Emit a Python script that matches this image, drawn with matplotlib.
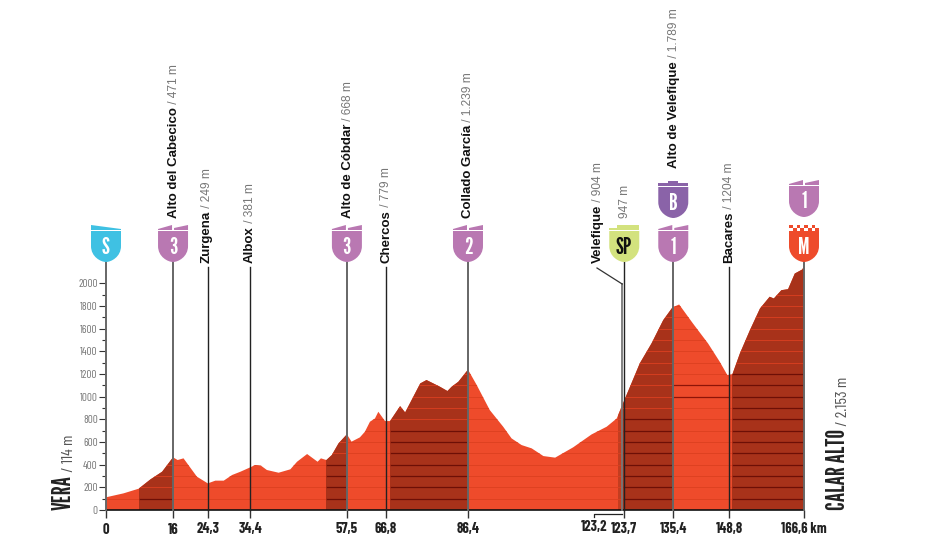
import numpy as np
import matplotlib
matplotlib.use('Agg')
import matplotlib.pyplot as plt
from matplotlib.patches import PathPatch, Polygon
from matplotlib.path import Path
from matplotlib.transforms import Affine2D

WIDTH, HEIGHT = 932, 553

# profile
km = [0, 4.2, 7.8, 10.6, 13.4, 16, 17.1, 18.5, 21.7, 24.3, 26.1, 28.1, 30.1, 32.1, 34.4, 35.6, 37, 38.4,
      41.2, 44, 45.6, 48, 50.5, 51.3, 52.6, 53.9, 55.5, 57.5, 58.6, 60.6, 61.8, 63, 64.2, 65, 66.6, 67.8,
      70.2, 71.4, 75, 76.5, 79.7, 81.5, 82.5, 84.1, 86.4, 88.5, 91.6, 94.8, 96.8, 99.2, 101.6, 104.4,
      107.2, 111.5, 115.9, 119.5, 121.9, 123.4, 125.4, 127.4, 130.2, 133, 135.2, 136.8, 140.1, 143.7,
      146.5, 148.3, 149.5, 151.3, 153.7, 156.1, 158.4, 159.4, 161.2, 162.8, 164.4, 166.2, 166.6]
elev = [112, 147, 188, 270, 338, 465, 441, 456, 294, 235, 259, 259, 309, 338, 376, 397, 391, 353,
        329, 359, 426, 494, 426, 456, 441, 485, 588, 668, 603, 641, 691, 779, 808, 867, 785, 785,
        917, 861, 1117, 1147, 1088, 1050, 1088, 1132, 1239, 1102, 882, 735, 632, 573, 544, 476,
        462, 553, 667, 735, 808, 941, 1117, 1294, 1470, 1676, 1788, 1814, 1646, 1470,
        1308, 1191, 1197, 1382, 1588, 1779, 1882, 1867, 1940, 1949, 2087, 2123, 2153]

# steep stretches: start km, end km, highest ruled line
dark_start = [7.8, 52.6, 67.8, 123.4, 149.5]
dark_end = [16, 57.5, 86.4, 135.4, 166.6]
dark_top = [100, 400, 700, 800, 1200]

x_ticks = [0, 16, 24.3, 34.4, 57.5, 66.8, 86.4, 123.7, 135.4, 148.8, 166.6]
x_labels = ['0', '16', '24,3', '34,4', '57,5', '66,8', '86,4', '123,7', '135,4', '148,8', '166,6 km']
y_ticks = [0, 200, 400, 600, 800, 1000, 1200, 1400, 1600, 1800, 2000]

# pixel column of the text, bottom pixel of the text, name, height
place_x = [173, 206, 249, 347, 385, 467, 597, 624, 673, 728]
place_bottom = [218, 263, 263, 218, 263, 218, 263, 218, 168, 263]
place_name = ['Alto del Cabecico', 'Zurgena', 'Albox', 'Alto de Cóbdar', 'Chercos', 'Collado García',
              'Velefique', '', 'Alto de Velefique', 'Bacares']
place_height = [' / 471 m', ' / 249 m', ' / 381 m', ' / 668 m', ' / 779 m', ' / 1.239 m',
                ' / 904 m', '947 m', ' / 1.789 m', ' / 1204 m']

# km, bottom pixel, fill, tab kind, letter, letter colour
badge_km = [0, 16, 57.5, 86.4, 123.7, 135.4, 135.4, 166.6, 166.6]
badge_bottom = [262, 262, 262, 262, 262, 262, 218, 262, 217]
badge_color = ['#3fc1e3', '#b978b2', '#b978b2', '#b978b2', '#d3e27e', '#b978b2', '#8a63a8', '#ee4b2b', '#b978b2']
badge_tab = ['flag', 'peaks', 'peaks', 'peaks', 'sprint', 'peaks', 'bonus', 'check', 'peaks']
badge_text = ['S', '3', '3', '2', 'SP', '1', 'B', 'M', '1']
badge_text_color = ['white', 'white', 'white', 'white', '#111111', 'white', 'white', 'white', 'white']

RED = '#ee4b2b'
DARK = '#a8321a'
NARROW = ['League Gothic', 'Barlow Condensed', 'Liberation Sans']
TICKS = ['Barlow Condensed', 'Liberation Sans']
SANS = ['Liberation Sans']

fig = plt.figure(figsize=(WIDTH / 100, HEIGHT / 100), dpi=100)
left, right, top0, bottom0 = 106, 804, 283.4, 510
ax = fig.add_axes([left / WIDTH, 1 - bottom0 / HEIGHT, (right - left) / WIDTH, (bottom0 - top0) / HEIGHT])
ax.set_xlim(0, 166.6)
ax.set_ylim(0, 2000)
ax.patch.set_visible(False)
for side in ['top', 'right', 'left']:
    ax.spines[side].set_visible(False)
ax.spines['bottom'].set_linewidth(1.2)
ax.spines['bottom'].set_color('#111111')

# pixels from the top left corner, for the decoration
px = Affine2D().scale(1, -1).translate(0, HEIGHT)


def kmx(value):
    return ax.transData.transform((value, 0))[0]


# profile
outline = Polygon(np.column_stack([[0] + km + [166.6], [0] + elev + [0]]), closed=True,
                  facecolor=RED, edgecolor='none', zorder=1, clip_on=False)
ax.add_patch(outline)


def clipped(artist):
    artist.set_clip_path(outline)
    return artist


clipped(ax.fill_between([122.3, 123.4], 0, 2300, color='#c33d20', lw=0, zorder=2))
for start, end in zip(dark_start, dark_end):
    clipped(ax.fill_between([start, end], 0, 2300, color=DARK, lw=0, zorder=2))
for level in range(100, 2000, 100):
    clipped(ax.hlines(level, 0, 166.6, color='#dc4020', lw=0.6, zorder=3))
for start, end, line_top in zip(dark_start, dark_end, dark_top):
    clipped(ax.hlines(np.arange(100, line_top + 1, 100), start, end, color='#6d0f06', lw=0.9, zorder=4))
clipped(ax.hlines([1000, 1100], 135.4, 148.8, color='#8e1408', lw=0.9, zorder=4))
ax.set_ylim(0, 2000)

# axes
ax.set_yticks(y_ticks)
ax.set_yticks(range(100, 2000, 200), minor=True)
ax.tick_params(axis='y', which='major', length=5, width=0.8, color='#333333', labelsize=8,
               labelcolor='#777777', pad=1)
ax.tick_params(axis='y', which='minor', length=3, width=0.8, color='#333333')
for label in ax.get_yticklabels():
    label.set_family(TICKS)
ax.set_xticks(x_ticks)
ax.set_xticklabels(x_labels, family=TICKS, fontweight='bold', fontsize=10.5, color='#222222')
ax.tick_params(axis='x', length=6, width=1, color='#333333', pad=3)

# verticals
for value in [0, 16, 57.5, 86.4, 135.4, 166.6]:
    ax.plot([kmx(value)] * 2, [262, bottom0], transform=px, color='#666666', lw=1.4, zorder=5, clip_on=False)
for value in [24.3, 34.4, 66.8, 148.8]:
    ax.plot([kmx(value)] * 2, [267, bottom0], transform=px, color='#222222', lw=1.0, zorder=5, clip_on=False)
ax.plot([kmx(123.7)] * 2, [262, bottom0], transform=px, color='#222222', lw=1.0, zorder=5, clip_on=False)
# Velefique leader
lead = kmx(123.2)
ax.plot([lead, lead], [284, bottom0], transform=px, color='#777777', lw=1.3, zorder=5, clip_on=False)
ax.plot([597, lead], [268, 284], transform=px, color='#333333', lw=0.9, zorder=5, clip_on=False)
ax.plot([lead, 594, 594], [514, 514, 517], transform=px, color='#222222', lw=0.9, zorder=5, clip_on=False)
ax.text(594, 520, '123,2', transform=px, family=TICKS, fontweight='bold', fontsize=10.5, color='#222222',
        ha='center', va='top')

renderer = fig.canvas.get_renderer()


def stacked(x, bottom, first, second, first_kw, second_kw, dx=0):
    # rotated name with the lighter height running on above it
    y = bottom
    if first:
        t = ax.text(x, y, first, transform=px, rotation=90, ha='center', va='bottom', **first_kw)
        y = bottom - t.get_window_extent(renderer).height
    ax.text(x + dx, y, second, transform=px, rotation=90, ha='center', va='bottom', **second_kw)


name_kw = dict(family=SANS, fontweight='bold', fontsize=9.5, color='#111111')
height_kw = dict(family=SANS, fontsize=8.6, color='#777777')
for x, bottom, name, height in zip(place_x, place_bottom, place_name, place_height):
    stacked(x + 1, bottom, name, height, name_kw, height_kw)

finish_kw = dict(family=NARROW, fontweight='bold', fontsize=17.5, color='#222222')
finish_height_kw = dict(family=TICKS, fontsize=11.5, color='#555555')
stacked(64, 510, 'VERA', ' / 114 m', finish_kw, finish_height_kw, dx=5)
stacked(838, 510, 'CALAR ALTO', ' / 2.153 m', finish_kw, finish_height_kw, dx=5)


def shield(cx, bottom, color):
    top = bottom - 31
    w = 15
    verts = [(cx - w, top), (cx + w, top), (cx + w, bottom - 16), (cx + w, bottom - 5), (cx + 5, bottom), (cx, bottom),
             (cx - 5, bottom), (cx - w, bottom - 5), (cx - w, bottom - 16), (cx - w, top)]
    codes = [Path.MOVETO, Path.LINETO, Path.LINETO, Path.CURVE4, Path.CURVE4, Path.CURVE4,
             Path.CURVE4, Path.CURVE4, Path.CURVE4, Path.CLOSEPOLY]
    ax.add_patch(PathPatch(Path(verts, codes), transform=px, facecolor=color, edgecolor='none',
                           zorder=6, clip_on=False))


def tab(cx, bottom, color, kind):
    top = bottom - 37
    low = bottom - 32
    w = 15
    if kind == 'peaks':
        shapes = [[(cx - w, low), (cx - w, low - 1), (cx - 1, top), (cx - 1, low)],
                  [(cx + 1, low), (cx + 1, low - 2), (cx + w, top), (cx + w, low)]]
    elif kind == 'flag':
        shapes = [[(cx - w, low), (cx - w, top), (cx + w, low - 1), (cx + w, low)]]
    elif kind == 'sprint':
        shapes = [[(cx - w, low), (cx - w, low - 2), (cx - 7, low - 2), (cx - 7, top), (cx + w, top), (cx + w, low)]]
    elif kind == 'bonus':
        shapes = [[(cx - w, low), (cx - w, low - 3), (cx - 5, low - 3), (cx - 5, top), (cx + 5, top),
                   (cx + 5, low - 3), (cx + w, low - 3), (cx + w, low)]]
    else:
        shapes = []
        for row, y in enumerate([top, top + 3]):
            for i in range(8):
                if (i + row) % 2 == 0:
                    x0 = cx - w + i * 3.75
                    shapes.append([(x0, y), (x0 + 3.75, y), (x0 + 3.75, y + 3), (x0, y + 3)])
    for shape in shapes:
        ax.add_patch(Polygon(shape, closed=True, transform=px, facecolor=color, edgecolor='none',
                             zorder=6, clip_on=False))


for value, bottom, color, kind, letter, letter_color in zip(badge_km, badge_bottom, badge_color, badge_tab,
                                                            badge_text, badge_text_color):
    cx = kmx(value)
    shield(cx, bottom, color)
    tab(cx, bottom, color, kind)
    ax.text(cx, bottom - 15, letter, transform=px, family=NARROW, fontsize=17,
            color=letter_color, ha='center', va='center', zorder=7)

fig.savefig('out.png', dpi=100)
